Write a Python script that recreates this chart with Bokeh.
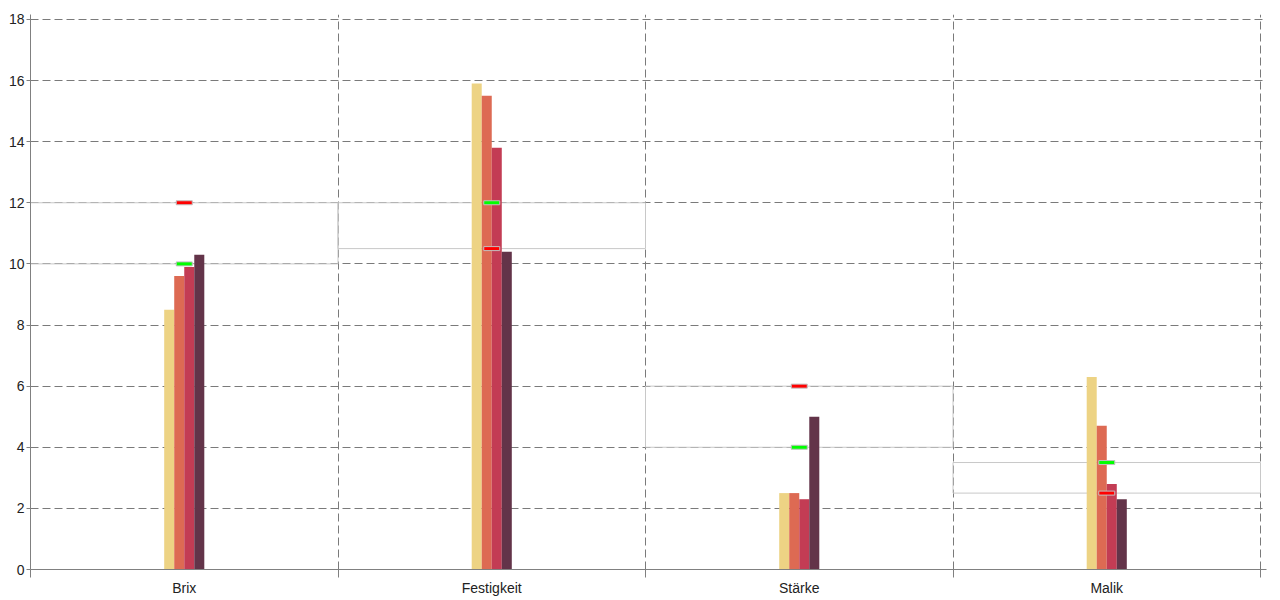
from bokeh.plotting import figure
from bokeh.models import ColumnDataSource, FixedTicker, Range1d
from bokeh.transform import dodge
from bokeh.embed import file_html
from bokeh.resources import INLINE

categories = ["Brix", "Festigkeit", "Stärke", "Malik"]
series1 = [8.5, 15.9, 2.5, 6.3]
series2 = [9.6, 15.5, 2.5, 4.7]
series3 = [9.9, 13.8, 2.3, 2.8]
series4 = [10.3, 10.4, 5.0, 2.3]
green_marks = [10, 12, 4, 3.5]
red_marks = [12, 10.5, 6, 2.5]
y_ticks = [0, 2, 4, 6, 8, 10, 12, 14, 16, 18]

colors = ["#edd384", "#dd6a53", "#c33c54", "#633449"]

centers = [i + 0.5 for i in range(len(categories))]
src = ColumnDataSource(dict(
    x=centers, cat=categories,
    s1=series1, s2=series2, s3=series3, s4=series4,
    g=green_marks, r=red_marks,
    left=[c - 0.5 for c in centers], right=[c + 0.5 for c in centers],
    lo=[min(a, b) for a, b in zip(green_marks, red_marks)],
    hi=[max(a, b) for a, b in zip(green_marks, red_marks)],
))

p = figure(frame_width=1236, frame_height=555,
           x_range=Range1d(0, 4.0195), y_range=Range1d(0, 18.16),
           output_backend="svg", toolbar_location=None,
           min_border_left=30, min_border_right=4, min_border_top=14, min_border_bottom=5)
p.outline_line_color = None
p.background_fill_color = "white"

# grids
p.ygrid.ticker = FixedTicker(ticks=y_ticks[1:])
p.ygrid.grid_line_color = "#7a7a7a"
p.ygrid.grid_line_dash = "8 4"
p.xgrid.ticker = FixedTicker(ticks=[1, 2, 3, 4])
p.xgrid.grid_line_color = "#7a7a7a"
p.xgrid.grid_line_dash = "8 4"

# bands
p.quad(left="left", right="right", bottom="lo", top="hi", source=src,
       fill_color=None, line_color="#c8c8c8", line_width=1)

bw = 0.0326
for k, (col, c) in enumerate(zip(["s1", "s2", "s3", "s4"], colors)):
    off = (k - 1.5) * bw
    p.vbar(x=dodge("x", off, range=p.x_range), top=col, bottom=0, width=bw,
           source=src, fill_color=c, line_color=None)

p.rect(x="x", y="r", width=16, height=4, width_units="screen", height_units="screen",
       source=src, fill_color="#ff0000", line_color="#c0c0c0", line_width=1)
p.rect(x="x", y="g", width=16, height=4, width_units="screen", height_units="screen",
       source=src, fill_color="#00ff00", line_color="#c0c0c0", line_width=1)

# axes
xa = p.xaxis[0]
xa.ticker = FixedTicker(ticks=centers, minor_ticks=[0, 1, 2, 3, 4])
xa.major_label_overrides = {c: n for c, n in zip(centers, categories)}
xa.major_tick_in = 0
xa.major_tick_out = 0
xa.minor_tick_in = 0
xa.minor_tick_out = 8
xa.minor_tick_line_color = "#808080"
xa.axis_line_color = "#808080"
xa.major_label_text_font = "Liberation Sans"
xa.major_label_text_font_size = "14px"
xa.major_label_text_color = "#222222"
xa.major_label_standoff = 2

ya = p.yaxis[0]
ya.ticker = FixedTicker(ticks=y_ticks)
ya.major_tick_in = 0
ya.major_tick_out = 4
ya.minor_tick_line_color = None
ya.major_tick_line_color = "#808080"
ya.axis_line_color = "#808080"
ya.major_label_text_font = "Liberation Sans"
ya.major_label_text_font_size = "14px"
ya.major_label_text_color = "#222222"
ya.major_label_standoff = 2

open("out.html", "w").write(file_html(p, INLINE))
